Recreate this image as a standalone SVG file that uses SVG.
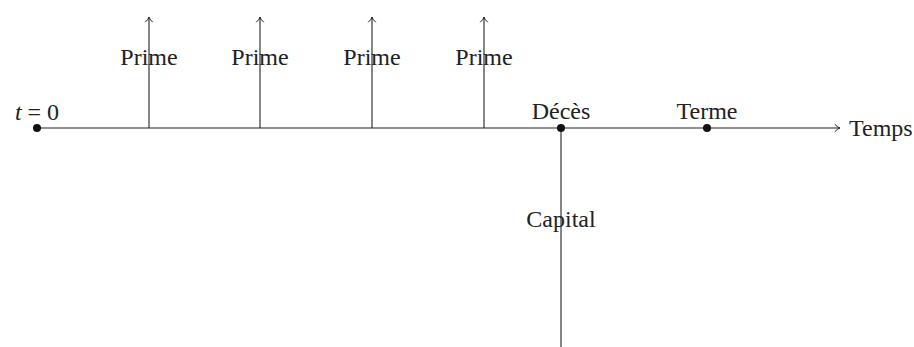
<svg xmlns="http://www.w3.org/2000/svg" width="914" height="347" viewBox="0 0 914 347">
<style>
text{font-family:"Liberation Serif","DejaVu Serif",serif;font-size:24px;fill:#222}
.ln{stroke:#222;stroke-width:1.1;fill:none}
.ah{stroke:#222;stroke-width:1;fill:none;stroke-linecap:round;stroke-linejoin:round}
.dot{fill:#111}
</style>
<rect width="914" height="347" fill="#fff"/>
<g id="connectors">
<line class="ln" x1="37" y1="128" x2="840" y2="128"/>
<path class="ah" d="M835,124.5 Q837,127 840,128 Q837,129 835,131.5"/>
<line class="ln" x1="149" y1="128" x2="149" y2="17"/>
<path class="ah" d="M145.5,22 Q148,20 149,17 Q150,20 152.5,22"/>
<line class="ln" x1="260" y1="128" x2="260" y2="17"/>
<path class="ah" d="M256.5,22 Q259,20 260,17 Q261,20 263.5,22"/>
<line class="ln" x1="372" y1="128" x2="372" y2="17"/>
<path class="ah" d="M368.5,22 Q371,20 372,17 Q373,20 375.5,22"/>
<line class="ln" x1="484" y1="128" x2="484" y2="17"/>
<path class="ah" d="M480.5,22 Q483,20 484,17 Q485,20 487.5,22"/>
<line class="ln" x1="561" y1="128" x2="561" y2="347"/>
</g>
<g id="t0"><circle class="dot" cx="37" cy="128" r="4"/><text x="37" y="120" text-anchor="middle"><tspan font-style="italic">t</tspan> = 0</text></g>
<g id="prime1"><text x="149" y="65" text-anchor="middle">Prime</text></g>
<g id="prime2"><text x="260" y="65" text-anchor="middle">Prime</text></g>
<g id="prime3"><text x="372" y="65" text-anchor="middle">Prime</text></g>
<g id="prime4"><text x="484" y="65" text-anchor="middle">Prime</text></g>
<g id="deces"><circle class="dot" cx="561" cy="128" r="4"/><text x="561" y="119" text-anchor="middle">Décès</text></g>
<g id="terme"><circle class="dot" cx="707" cy="128" r="4"/><text x="707" y="119" text-anchor="middle">Terme</text></g>
<g id="temps"><text x="849" y="135.5">Temps</text></g>
<g id="capital"><text x="561" y="227" text-anchor="middle">Capital</text></g>
</svg>
